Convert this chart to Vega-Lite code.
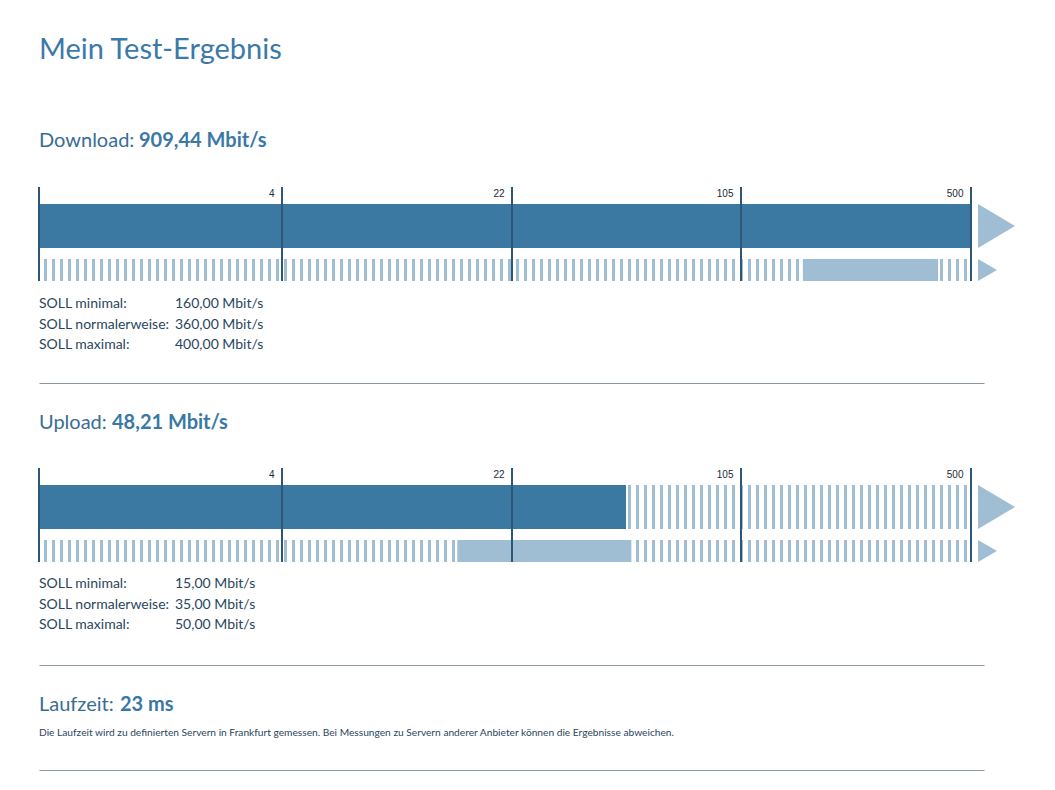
{
  "$schema": "https://vega.github.io/schema/vega-lite/v6.json",
  "background": "white",
  "padding": {"left": 17, "top": 0, "right": 0, "bottom": 6},
  "bounds": "flush",
  "spacing": 0,
  "config": {"view": {"stroke": null}, "font": "Lato"},
  "datasets": {
    "titel": [{"text": "Mein Test-Ergebnis"}],
    "tests": [
      {"test": "Download", "label": "Download:", "wert": "909,44 Mbit/s"},
      {"test": "Upload", "label": "Upload:", "wert": "48,21 Mbit/s"}
    ],
    "balken": [
      {"test": "Download", "zeile": "Messung", "von": 0, "bis": 909.44, "skala_von": 0, "skala_bis": 500},
      {"test": "Download", "zeile": "SOLL", "von": 160, "bis": 400, "skala_von": 0, "skala_bis": 500},
      {"test": "Upload", "zeile": "Messung", "von": 0, "bis": 48.21, "skala_von": 0, "skala_bis": 500},
      {"test": "Upload", "zeile": "SOLL", "von": 15, "bis": 50, "skala_von": 0, "skala_bis": 500}
    ],
    "skalenstriche": [{"wert": 0}, {"wert": 4}, {"wert": 22}, {"wert": 105}, {"wert": 500}],
    "soll": [
      {"test": "Download", "ord": 1, "label": "SOLL minimal:", "wert": "160,00 Mbit/s"},
      {"test": "Download", "ord": 2, "label": "SOLL normalerweise:", "wert": "360,00 Mbit/s"},
      {"test": "Download", "ord": 3, "label": "SOLL maximal:", "wert": "400,00 Mbit/s"},
      {"test": "Upload", "ord": 1, "label": "SOLL minimal:", "wert": "15,00 Mbit/s"},
      {"test": "Upload", "ord": 2, "label": "SOLL normalerweise:", "wert": "35,00 Mbit/s"},
      {"test": "Upload", "ord": 3, "label": "SOLL maximal:", "wert": "50,00 Mbit/s"}
    ],
    "laufzeit": [
      {"label": "Laufzeit:", "wert": "23 ms", "hinweis": "Die Laufzeit wird zu definierten Servern in Frankfurt gemessen. Bei Messungen zu Servern anderer Anbieter können die Ergebnisse abweichen."}
    ]
  },
  "vconcat": [
    {
      "width": 945, "height": 100,
      "data": {"name": "titel"},
      "mark": {"type": "text", "align": "left", "baseline": "alphabetic", "dy": 9.3, "fontSize": 29, "font": "Lato", "color": "#3b79a8"},
      "encoding": {
        "x": {"datum": 0, "type": "quantitative", "scale": {"domain": [0, 1]}, "axis": null},
        "text": {"field": "text", "type": "nominal"}
      }
    },
    {
      "width": 945, "height": 87,
      "data": {"name": "tests"},
      "transform": [{"filter": "datum.test == 'Download'"}],
      "layer": [
        {"mark": {"type": "text", "align": "left", "baseline": "alphabetic", "dy": 3.2, "fontSize": 20, "font": "Lato", "color": "#3a6d94"},
         "encoding": {"x": {"datum": 0, "type": "quantitative", "scale": {"domain": [0, 1]}, "axis": null}, "text": {"field": "label", "type": "nominal"}}},
        {"mark": {"type": "text", "align": "left", "baseline": "alphabetic", "dy": 3.2, "dx": 100, "fontSize": 20, "font": "Lato", "fontWeight": "bold", "color": "#3a78a5"},
         "encoding": {"x": {"datum": 0, "type": "quantitative", "axis": null}, "text": {"field": "wert", "type": "nominal"}}}
      ]
    },
    {
      "width": 932, "height": 94,
      "data": {"name": "balken"},
      "layer": [
        {"transform": [{"filter": "datum.test == 'Download' && datum.zeile == 'Messung'"}],
         "mark": {"type": "rule", "strokeWidth": 44, "strokeDash": [3, 5], "strokeDashOffset": 3, "strokeCap": "butt", "color": "#9fbdd3"},
         "encoding": {
           "x": {"field": "skala_von", "type": "quantitative", "title": null,
                 "scale": {"type": "symlog", "domain": [0, 4, 22, 105, 500], "range": [0, 243, 473, 702, 932], "clamp": true, "nice": false, "zero": false},
                 "axis": {"orient": "top", "values": [0, 4, 22, 105, 500], "grid": false, "domain": false, "ticks": false, "tickSize": 0, "labelAlign": "right", "labelBaseline": "middle", "labelPadding": -6, "labelOffset": -8, "labelFont": "Liberation Sans", "labelFontSize": 10, "labelColor": "#1e2a36", "labelFlush": false, "labelOverlap": false, "labelExpr": "datum.value == 0 ? '' : datum.label", "zindex": 1, "title": null}},
           "x2": {"field": "skala_bis"},
           "y": {"field": "zeile", "type": "nominal", "scale": {"type": "point", "domain": ["Messung", "SOLL"], "range": [39, 83], "padding": 0}, "axis": null}
         }},
        {"transform": [{"filter": "datum.test == 'Download' && datum.zeile == 'SOLL'"}],
         "mark": {"type": "rule", "strokeWidth": 22, "strokeDash": [3, 5], "strokeDashOffset": 3, "strokeCap": "butt", "color": "#9fbdd3"},
         "encoding": {"x": {"field": "skala_von", "type": "quantitative", "title": null}, "x2": {"field": "skala_bis"}, "y": {"field": "zeile", "type": "nominal", "axis": null}}},
        {"transform": [{"filter": "datum.test == 'Download' && datum.zeile == 'Messung'"}],
         "mark": {"type": "rule", "strokeWidth": 44, "strokeCap": "butt", "color": "#3b79a3"},
         "encoding": {"x": {"field": "von", "type": "quantitative", "title": null}, "x2": {"field": "bis"}, "y": {"field": "zeile", "type": "nominal", "axis": null}}},
        {"transform": [{"filter": "datum.test == 'Download' && datum.zeile == 'SOLL'"}],
         "mark": {"type": "rule", "strokeWidth": 22, "strokeCap": "butt", "color": "#9fbdd3"},
         "encoding": {"x": {"field": "von", "type": "quantitative", "title": null}, "x2": {"field": "bis"}, "y": {"field": "zeile", "type": "nominal", "axis": null}}},
        {"transform": [{"filter": "datum.test == 'Download' && datum.zeile == 'Messung'"}],
         "mark": {"type": "point", "shape": "M0.32,-1L2,0L0.32,1Z", "size": 1936, "filled": true, "opacity": 1, "color": "#9fbdd3"},
         "encoding": {"x": {"field": "skala_bis", "type": "quantitative", "title": null}, "y": {"field": "zeile", "type": "nominal", "axis": null}}},
        {"transform": [{"filter": "datum.test == 'Download' && datum.zeile == 'SOLL'"}],
         "mark": {"type": "point", "shape": "M0.64,-1L2.36,0L0.64,1Z", "size": 484, "filled": true, "opacity": 1, "color": "#9fbdd3"},
         "encoding": {"x": {"field": "skala_bis", "type": "quantitative", "title": null}, "y": {"field": "zeile", "type": "nominal", "axis": null}}},
        {"data": {"name": "skalenstriche"},
         "mark": {"type": "rule", "strokeWidth": 2, "color": "#2c5777"},
         "encoding": {"x": {"field": "wert", "type": "quantitative", "title": null}}}
      ]
    },
    {
      "width": 945, "height": 102,
      "data": {"name": "soll"},
      "transform": [{"filter": "datum.test == 'Download'"}],
      "layer": [
        {"mark": {"type": "text", "align": "left", "baseline": "alphabetic", "fontSize": 14, "font": "Lato", "color": "#2a4660"},
         "encoding": {
           "x": {"field": "test", "type": "nominal", "scale": {"type": "point", "padding": 0, "align": 0}, "axis": {"orient": "bottom", "domain": true, "domainColor": "#8c99a3", "domainWidth": 1, "ticks": false, "labels": false, "grid": false, "title": null}},
           "y": {"field": "label", "type": "nominal", "sort": {"field": "ord", "op": "min"}, "scale": {"type": "point", "range": [27.3, 68.3], "padding": 0}, "axis": null},
           "text": {"field": "label", "type": "nominal"}}},
        {"mark": {"type": "text", "align": "left", "baseline": "alphabetic", "dx": 136, "fontSize": 14, "font": "Lato", "color": "#2a4660"},
         "encoding": {
           "x": {"field": "test", "type": "nominal", "title": null},
           "y": {"field": "label", "type": "nominal", "sort": {"field": "ord", "op": "min"}, "axis": null},
           "text": {"field": "wert", "type": "nominal"}}}
      ]
    },
    {
      "width": 945, "height": 85,
      "data": {"name": "tests"},
      "transform": [{"filter": "datum.test == 'Upload'"}],
      "layer": [
        {"mark": {"type": "text", "align": "left", "baseline": "alphabetic", "dy": 3.5, "fontSize": 20, "font": "Lato", "color": "#3a6d94"},
         "encoding": {"x": {"datum": 0, "type": "quantitative", "scale": {"domain": [0, 1]}, "axis": null}, "text": {"field": "label", "type": "nominal"}}},
        {"mark": {"type": "text", "align": "left", "baseline": "alphabetic", "dy": 3.5, "dx": 73, "fontSize": 20, "font": "Lato", "fontWeight": "bold", "color": "#3a78a5"},
         "encoding": {"x": {"datum": 0, "type": "quantitative", "axis": null}, "text": {"field": "wert", "type": "nominal"}}}
      ]
    },
    {
      "width": 932, "height": 94,
      "data": {"name": "balken"},
      "layer": [
        {"transform": [{"filter": "datum.test == 'Upload' && datum.zeile == 'Messung'"}],
         "mark": {"type": "rule", "strokeWidth": 44, "strokeDash": [3, 5], "strokeDashOffset": 3, "strokeCap": "butt", "color": "#9fbdd3"},
         "encoding": {
           "x": {"field": "skala_von", "type": "quantitative", "title": null,
                 "scale": {"type": "symlog", "domain": [0, 4, 22, 105, 500], "range": [0, 243, 473, 702, 932], "clamp": true, "nice": false, "zero": false},
                 "axis": {"orient": "top", "values": [0, 4, 22, 105, 500], "grid": false, "domain": false, "ticks": false, "tickSize": 0, "labelAlign": "right", "labelBaseline": "middle", "labelPadding": -6, "labelOffset": -8, "labelFont": "Liberation Sans", "labelFontSize": 10, "labelColor": "#1e2a36", "labelFlush": false, "labelOverlap": false, "labelExpr": "datum.value == 0 ? '' : datum.label", "zindex": 1, "title": null}},
           "x2": {"field": "skala_bis"},
           "y": {"field": "zeile", "type": "nominal", "scale": {"type": "point", "domain": ["Messung", "SOLL"], "range": [39, 83], "padding": 0}, "axis": null}
         }},
        {"transform": [{"filter": "datum.test == 'Upload' && datum.zeile == 'SOLL'"}],
         "mark": {"type": "rule", "strokeWidth": 22, "strokeDash": [3, 5], "strokeDashOffset": 3, "strokeCap": "butt", "color": "#9fbdd3"},
         "encoding": {"x": {"field": "skala_von", "type": "quantitative", "title": null}, "x2": {"field": "skala_bis"}, "y": {"field": "zeile", "type": "nominal", "axis": null}}},
        {"transform": [{"filter": "datum.test == 'Upload' && datum.zeile == 'Messung'"}],
         "mark": {"type": "rule", "strokeWidth": 44, "strokeCap": "butt", "color": "#3b79a3"},
         "encoding": {"x": {"field": "von", "type": "quantitative", "title": null}, "x2": {"field": "bis"}, "y": {"field": "zeile", "type": "nominal", "axis": null}}},
        {"transform": [{"filter": "datum.test == 'Upload' && datum.zeile == 'SOLL'"}],
         "mark": {"type": "rule", "strokeWidth": 22, "strokeCap": "butt", "color": "#9fbdd3"},
         "encoding": {"x": {"field": "von", "type": "quantitative", "title": null}, "x2": {"field": "bis"}, "y": {"field": "zeile", "type": "nominal", "axis": null}}},
        {"transform": [{"filter": "datum.test == 'Upload' && datum.zeile == 'Messung'"}],
         "mark": {"type": "point", "shape": "M0.32,-1L2,0L0.32,1Z", "size": 1936, "filled": true, "opacity": 1, "color": "#9fbdd3"},
         "encoding": {"x": {"field": "skala_bis", "type": "quantitative", "title": null}, "y": {"field": "zeile", "type": "nominal", "axis": null}}},
        {"transform": [{"filter": "datum.test == 'Upload' && datum.zeile == 'SOLL'"}],
         "mark": {"type": "point", "shape": "M0.64,-1L2.36,0L0.64,1Z", "size": 484, "filled": true, "opacity": 1, "color": "#9fbdd3"},
         "encoding": {"x": {"field": "skala_bis", "type": "quantitative", "title": null}, "y": {"field": "zeile", "type": "nominal", "axis": null}}},
        {"data": {"name": "skalenstriche"},
         "mark": {"type": "rule", "strokeWidth": 2, "color": "#2c5777"},
         "encoding": {"x": {"field": "wert", "type": "quantitative", "title": null}}}
      ]
    },
    {
      "width": 945, "height": 103,
      "data": {"name": "soll"},
      "transform": [{"filter": "datum.test == 'Upload'"}],
      "layer": [
        {"mark": {"type": "text", "align": "left", "baseline": "alphabetic", "fontSize": 14, "font": "Lato", "color": "#2a4660"},
         "encoding": {
           "x": {"field": "test", "type": "nominal", "scale": {"type": "point", "padding": 0, "align": 0}, "axis": {"orient": "bottom", "domain": true, "domainColor": "#8c99a3", "domainWidth": 1, "ticks": false, "labels": false, "grid": false, "title": null}},
           "y": {"field": "label", "type": "nominal", "sort": {"field": "ord", "op": "min"}, "scale": {"type": "point", "range": [26.3, 67], "padding": 0}, "axis": null},
           "text": {"field": "label", "type": "nominal"}}},
        {"mark": {"type": "text", "align": "left", "baseline": "alphabetic", "dx": 136, "fontSize": 14, "font": "Lato", "color": "#2a4660"},
         "encoding": {
           "x": {"field": "test", "type": "nominal", "title": null},
           "y": {"field": "label", "type": "nominal", "sort": {"field": "ord", "op": "min"}, "axis": null},
           "text": {"field": "wert", "type": "nominal"}}}
      ]
    },
    {
      "width": 945, "height": 105,
      "data": {"name": "laufzeit"},
      "layer": [
        {"mark": {"type": "text", "align": "left", "baseline": "alphabetic", "dy": -6.5, "fontSize": 20, "font": "Lato", "color": "#3a6d94"},
         "encoding": {
           "x": {"field": "label", "type": "nominal", "scale": {"type": "point", "padding": 0, "align": 0}, "axis": {"orient": "bottom", "domain": true, "domainColor": "#8c99a3", "domainWidth": 1, "ticks": false, "labels": false, "grid": false, "title": null}},
           "text": {"field": "label", "type": "nominal"}}},
        {"mark": {"type": "text", "align": "left", "baseline": "alphabetic", "dy": -6.5, "dx": 81, "fontSize": 20, "font": "Lato", "fontWeight": "bold", "color": "#3a78a5"},
         "encoding": {"x": {"field": "label", "type": "nominal", "title": null}, "text": {"field": "wert", "type": "nominal"}}},
        {"mark": {"type": "text", "align": "left", "baseline": "alphabetic", "dy": 18.5, "fontSize": 10.2, "font": "Lato", "color": "#2a4660"},
         "encoding": {"x": {"field": "label", "type": "nominal", "title": null}, "text": {"field": "hinweis", "type": "nominal"}}}
      ]
    }
  ]
}
